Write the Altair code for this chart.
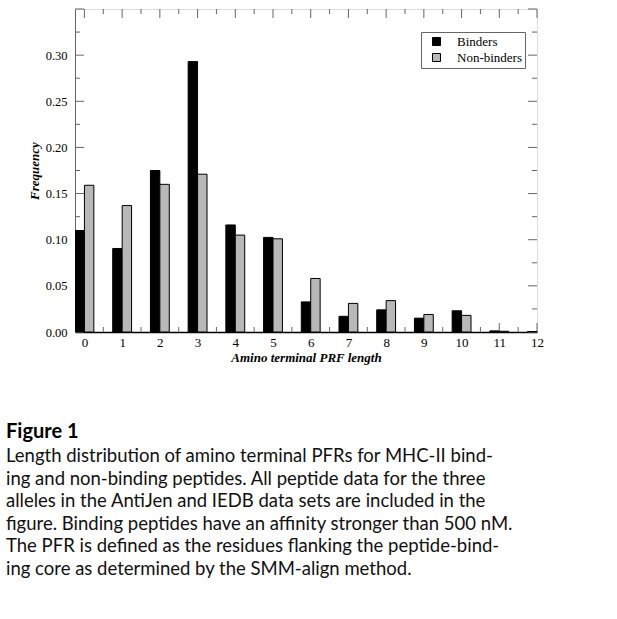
import altair as alt
import pandas as pd

lengths = list(range(13))
binders = [0.110, 0.0905, 0.175, 0.293, 0.116, 0.1025, 0.0326, 0.017, 0.024, 0.015, 0.023, 0.0012, 0.0005]
non_binders = [0.159, 0.137, 0.160, 0.171, 0.105, 0.101, 0.058, 0.031, 0.034, 0.019, 0.018, 0.0008, 0.0]
series_names = ["Binders", "Non-binders"]
series_colors = ["#000000", "#b8b8b8"]

y_label_values = [0.0, 0.05, 0.10, 0.15, 0.20, 0.25, 0.30]
y_major_ticks = [0.0, 0.05, 0.10, 0.15, 0.20, 0.25, 0.30, 0.35]
y_minor_ticks = [0.025, 0.075, 0.125, 0.175, 0.225, 0.275, 0.325]
x_major_ticks = list(range(13))
x_minor_ticks = [i + 0.5 for i in range(12)]

caption_title = "Figure 1"
caption_lines = [
    "Length distribution of amino terminal PFRs for MHC-II bind-",
    "ing and non-binding peptides. All peptide data for the three",
    "alleles in the AntiJen and IEDB data sets are included in the",
    "figure. Binding peptides have an affinity stronger than 500 nM.",
    "The PFR is defined as the residues flanking the peptide-bind-",
    "ing core as determined by the SMM-align method.",
]

W, H = 462, 323
SERIF = "Liberation Serif"
FRAME = "#666666"

rows = []
for l, b, n in zip(lengths, binders, non_binders):
    rows.append({"length": l, "series": "Binders", "freq": b})
    rows.append({"length": l, "series": "Non-binders", "freq": n})
df = pd.DataFrame(rows)

xscale = alt.Scale(domain=[-0.25, 12], nice=False, zero=False)
yscale = alt.Scale(domain=[0, 0.35], nice=False)

x_axis = alt.Axis(
    values=lengths,
    format="d",
    ticks=False,
    grid=False,
    labelOverlap=False,
    labelFlush=False,
    domainColor="black",
    domainWidth=1.5,
    labelFont=SERIF,
    labelFontSize=13,
    labelColor="black",
    labelPadding=4,
    title="Amino terminal PRF length",
    titleFont=SERIF,
    titleFontSize=13,
    titleFontStyle="italic",
    titleFontWeight="bold",
    titleColor="black",
    titlePadding=2,
)
y_axis = alt.Axis(
    values=y_label_values,
    format=".2f",
    ticks=False,
    grid=False,
    labelOverlap=False,
    labelFlush=False,
    domainColor=FRAME,
    labelFont=SERIF,
    labelFontSize=12.5,
    labelColor="black",
    labelPadding=8,
    title="Frequency",
    titleFont=SERIF,
    titleFontSize=13,
    titleFontStyle="italic",
    titleFontWeight="bold",
    titleColor="black",
    titlePadding=4,
)

bars = (
    alt.Chart(df)
    .transform_calculate(
        x0="datum.length + (datum.series == 'Binders' ? -0.25 : 0)",
        x1="datum.length + (datum.series == 'Binders' ? 0 : 0.25)",
    )
    .mark_bar(stroke="black", strokeWidth=1, clip=True)
    .encode(
        x=alt.X("x0:Q", scale=xscale, axis=x_axis),
        x2="x1:Q",
        y=alt.Y("freq:Q", scale=yscale, axis=y_axis),
        y2=alt.datum(0),
        fill=alt.Fill(
            "series:N",
            scale=alt.Scale(domain=series_names, range=series_colors),
            legend=alt.Legend(
                title=None,
                orient="none",
                legendX=346,
                legendY=23,
                direction="vertical",
                strokeColor=FRAME,
                fillColor="white",
                padding=3,
                symbolType="square",
                symbolSize=64,
                symbolOffset=6,
                symbolStrokeColor="black",
                symbolStrokeWidth=1,
                labelOffset=14,
                labelFont=SERIF,
                labelFontSize=13,
                labelColor="black",
                rowPadding=2,
            ),
        ),
    )
)

ymaj = pd.DataFrame({"v": y_major_ticks})
ymin = pd.DataFrame({"v": y_minor_ticks})
xmaj = pd.DataFrame({"v": x_major_ticks})
xmin = pd.DataFrame({"v": x_minor_ticks})


def yticks(d, x_a, x_b):
    return alt.Chart(d).mark_rule(color=FRAME, strokeWidth=1).encode(
        y=alt.Y("v:Q", scale=yscale, axis=y_axis), x=alt.value(x_a), x2=alt.value(x_b)
    )


def xticks(d, y_a, y_b):
    return alt.Chart(d).mark_rule(color=FRAME, strokeWidth=1).encode(
        x=alt.X("v:Q", scale=xscale, axis=x_axis), y=alt.value(y_a), y2=alt.value(y_b)
    )


ticks = (
    yticks(ymaj, 0, 9)
    + yticks(ymin, 0, 5)
    + yticks(ymaj, W - 9, W)
    + yticks(ymin, W - 5, W)
    + xticks(xmaj, 0, 9)
    + xticks(xmin, 0, 5)
    + xticks(xmaj, H - 9, H)
    + xticks(xmin, H - 5, H)
)

chart = (
    alt.layer(ticks, bars)
    .properties(
        width=W,
        height=H,
        autosize=alt.AutoSizeParams(type="none"),
        padding={"left": 75, "top": 9, "right": 80, "bottom": 287},
        title=alt.TitleParams(
            text=caption_title,
            subtitle=caption_lines,
            orient="bottom",
            anchor="start",
            frame="group",
            dx=-69,
            offset=58,
            font="Lato",
            fontSize=20,
            fontWeight="bold",
            color="black",
            subtitleFont="Lato",
            subtitleFontSize=18.5,
            subtitleColor="#111111",
            subtitleLineHeight=22.5,
            subtitlePadding=5,
        ),
    )
    .configure_view(stroke=FRAME, strokeWidth=1)
    .configure(background="white")
)

chart.save("out.html", embed_options={"renderer": "svg", "actions": False})
